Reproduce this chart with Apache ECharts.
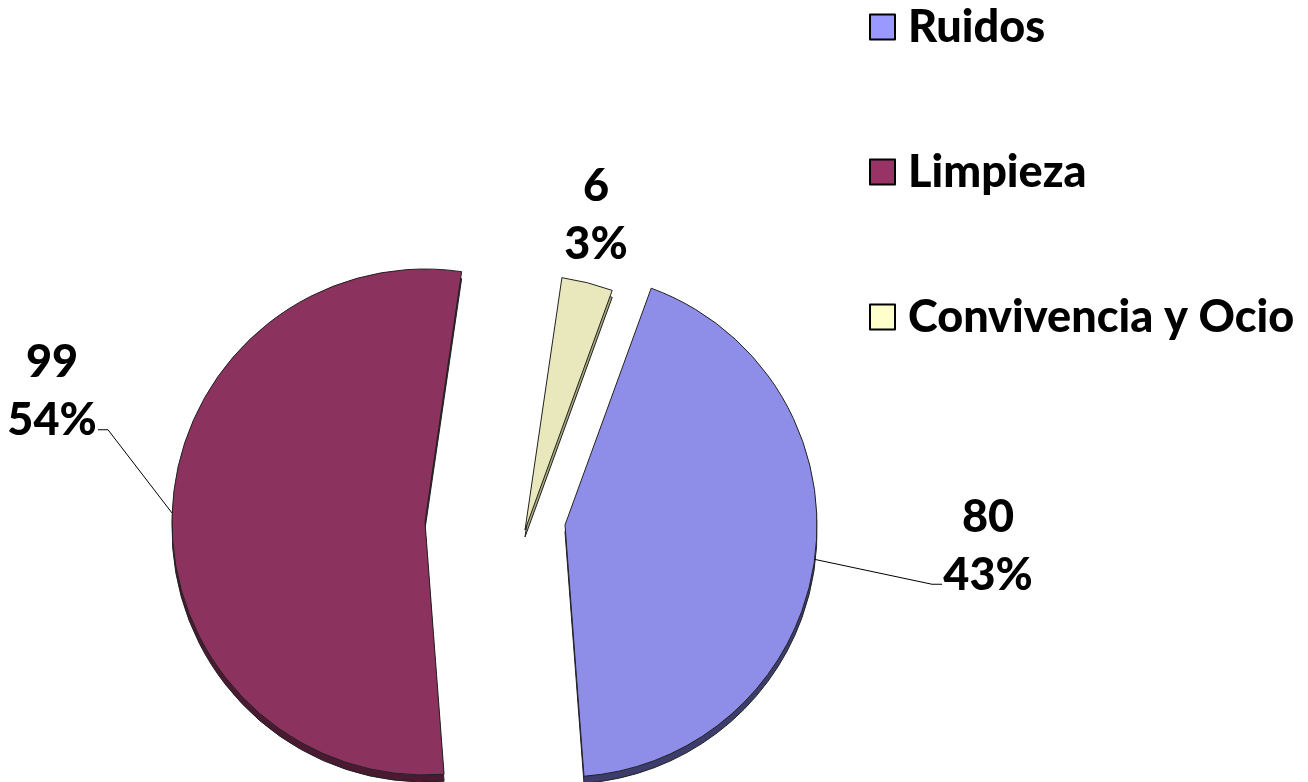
<!DOCTYPE html>
<html>
<head>
<meta charset="utf-8">
<script src="https://cdn.jsdelivr.net/npm/echarts@6/dist/echarts.min.js"></script>
<style>
  html, body { margin: 0; padding: 0; background: #fff; }
</style>
</head>
<body>
<div id="PieChart" style="width: 1308px; height: 782px"></div>
<script>
const names = ["Ruidos", "Limpieza", "Convivencia y Ocio"];
const values = [80, 99, 6];
const legendColors = ["#9999FF", "#993366", "#FFFFCC"];
const sliceColors = ["#8E8EE9", "#8B325E", "#E8E8BC"];
const rimColors = ["#3D3D6C", "#4A1932", "#A9A97E"];

// every slice is drawn by its own pie so it can be pulled out by its own amount
const sliceCenters = [[565, 525], [425, 522], [525, 530]];
const sliceRadius = [252, 253, 255];
// top of each label block
const labelSpots = [[988, 488], [52, 333], [596, 157]];
// empty room under the two text lines, so the leader meets the block lower down
const labelTail = [130, 132, 0];
const rimDepth = 7;

const font = "Lato, 'Open Sans', sans-serif";

function sliceSeries(i, rim) {
  const c = sliceCenters[i];
  const textStyle = {
    width: 92,
    align: "center",
    fontSize: 45,
    fontWeight: 900,
    fontFamily: font,
    lineHeight: 58,
    color: "#000",
  };
  return {
    name: names[i] + (rim ? " rim" : ""),
    type: "pie",
    center: rim ? [c[0], c[1] + rimDepth] : c,
    radius: sliceRadius[i],
    startAngle: 70,
    clockwise: true,
    percentPrecision: 0,
    avoidLabelOverlap: false,
    animation: false,
    silent: true,
    z: rim ? 1 : 2,
    label: {
      position: "outside",
      formatter: labelTail[i] ? "{a|{c}}\n{a|{d}%}\n{t| }" : "{a|{c}}\n{a|{d}%}",
      rich: {
        a: textStyle,
        t: { width: 92, fontSize: 10, lineHeight: labelTail[i] || 10 },
      },
    },
    labelLine: {
      length: 40,
      length2: 10,
      smooth: false,
      lineStyle: { color: "#000", width: 1 },
    },
    labelLayout: rim ? null : function () {
      return {
        x: labelSpots[i][0],
        y: labelSpots[i][1],
        align: "center",
        verticalAlign: "top",
      };
    },
    data: names.map((n, j) => {
      const mine = j === i;
      return {
        name: n,
        value: values[j],
        itemStyle: mine
          ? { color: rim ? rimColors[i] : sliceColors[i], borderColor: "#222", borderWidth: 1 }
          : { color: "rgba(0,0,0,0)", borderWidth: 0 },
        label: { show: mine && !rim },
        labelLine: { show: mine && !rim && i !== 2 },
      };
    }),
  };
}

const series = [];
for (let i = 0; i < names.length; i++) series.push(sliceSeries(i, true));
for (let i = 0; i < names.length; i++) series.push(sliceSeries(i, false));

const chart = echarts.init(document.getElementById("PieChart"));
const option = {
  backgroundColor: "#fff",
  animation: false,
  legend: {
    orient: "vertical",
    left: 864,
    top: -3,
    itemWidth: 25,
    itemHeight: 25,
    itemGap: 95,
    icon: "rect",
    itemStyle: { borderColor: "#000", borderWidth: 2 },
    textStyle: {
      fontSize: 45,
      fontWeight: 900,
      fontFamily: font,
      color: "#000",
      lineHeight: 50,
      padding: [0, 0, 0, 8],
    },
    data: names.map((n, i) => ({ name: n, itemStyle: { color: legendColors[i] } })),
  },
  series: series,
};
chart.setOption(option, true);
window.onresize = () => {
  chart.resize();
};
</script>
</body>
</html>
